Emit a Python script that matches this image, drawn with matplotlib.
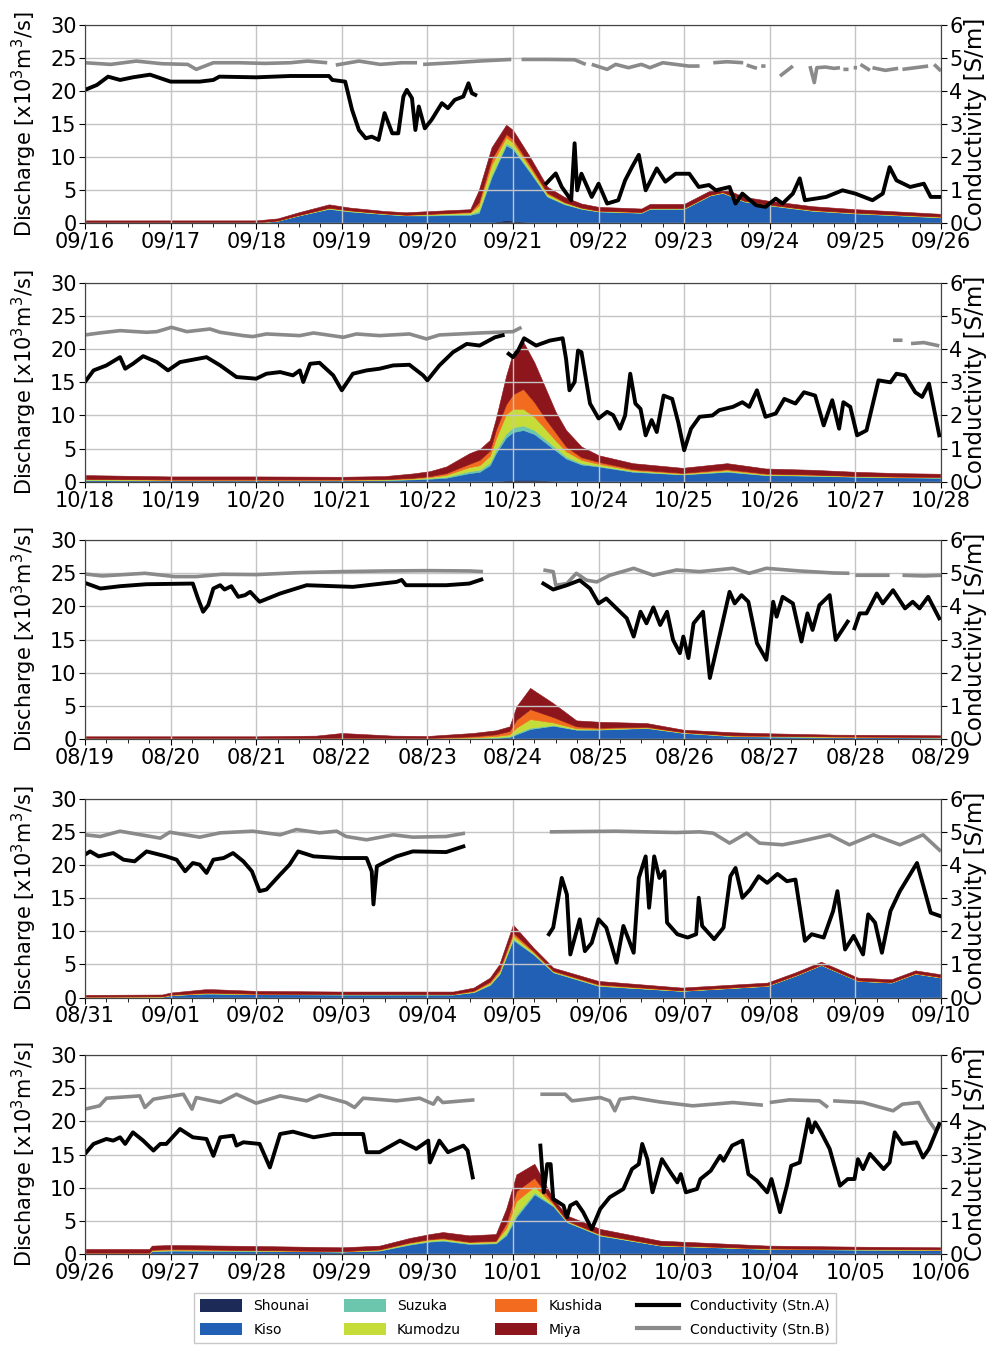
import numpy as np
import matplotlib
matplotlib.use("Agg")
import matplotlib.pyplot as plt
from matplotlib.ticker import MultipleLocator
from matplotlib.patches import Patch
from matplotlib.lines import Line2D

nan = np.nan

# ---------------- tick labels ----------------
labels1 = ['09/16', '09/17', '09/18', '09/19', '09/20', '09/21', '09/22', '09/23', '09/24', '09/25', '09/26']
labels2 = ['10/18', '10/19', '10/20', '10/21', '10/22', '10/23', '10/24', '10/25', '10/26', '10/27', '10/28']
labels3 = ['08/19', '08/20', '08/21', '08/22', '08/23', '08/24', '08/25', '08/26', '08/27', '08/28', '08/29']
labels4 = ['08/31', '09/01', '09/02', '09/03', '09/04', '09/05', '09/06', '09/07', '09/08', '09/09', '09/10']
labels5 = ['09/26', '09/27', '09/28', '09/29', '09/30', '10/01', '10/02', '10/03', '10/04', '10/05', '10/06']

rivers = ['Shounai', 'Kiso', 'Suzuka', 'Kumodzu', 'Kushida', 'Miya']
river_colors = ['#1b2a57', '#2160b4', '#6cc6ae', '#c6dc38', '#f26b1f', '#8c161b']

# ---------------- panel 1 ----------------
t1_q = [0, 1, 2, 2.25, 2.5, 2.85, 3.1, 3.5, 3.75, 4.0, 4.5, 4.6, 4.75, 4.92, 5.0, 5.2, 5.4, 5.6, 5.8, 6.0,
        6.5, 6.6, 7.0, 7.3, 7.45, 7.7, 8.0, 8.5, 9.0, 9.5, 10]
shounai1 = [0, 0, 0, 0, 0, 0, 0, 0, 0, 0, 0, 0, 0.2, 0.5, 0.4, 0.2, 0.05, 0, 0, 0, 0, 0, 0, 0, 0, 0, 0, 0, 0, 0, 0]
kiso1 = [0.1, 0.1, 0.1, 0.4, 1.2, 2.2, 1.8, 1.4, 1.2, 1.2, 1.3, 1.6, 6.8, 11.3, 10.8, 7.5, 4.0, 2.9, 2.2, 1.8,
         1.6, 2.2, 2.2, 4.2, 4.6, 3.3, 2.7, 1.9, 1.5, 1.2, 0.9]
suzuka1 = [0.02, 0.02, 0.02, 0.02, 0.03, 0.05, 0.05, 0.05, 0.05, 0.1, 0.15, 0.3, 0.4, 0.3, 0.3, 0.2, 0.1, 0.1, 0.05, 0.05,
           0.05, 0.05, 0.05, 0.05, 0.05, 0.05, 0.05, 0.05, 0.05, 0.05, 0.05]
kumodzu1 = [0.02, 0.02, 0.02, 0.02, 0.05, 0.1, 0.1, 0.05, 0.05, 0.1, 0.2, 0.8, 1.5, 0.9, 0.7, 0.5, 0.3, 0.15, 0.1, 0.05,
            0.05, 0.05, 0.05, 0.05, 0.05, 0.05, 0.05, 0.05, 0.05, 0.05, 0.05]
kushida1 = [0.02, 0.02, 0.02, 0.02, 0.02, 0.03, 0.03, 0.03, 0.03, 0.05, 0.1, 0.5, 0.8, 0.5, 0.5, 0.4, 0.2, 0.1, 0.05, 0.05,
            0.05, 0.05, 0.05, 0.05, 0.05, 0.05, 0.05, 0.05, 0.05, 0.05, 0.05]
miya1 = [0.3, 0.3, 0.3, 0.3, 0.4, 0.5, 0.4, 0.35, 0.35, 0.4, 0.4, 1.8, 1.8, 1.4, 1.4, 1.2, 0.9, 0.75, 0.6, 0.55,
         0.5, 0.6, 0.6, 0.6, 0.6, 0.55, 0.55, 0.55, 0.5, 0.45, 0.4]
t1_a = [0, 0.14, 0.27, 0.41, 0.56, 0.76, 1.0, 1.34, 1.5, 1.57, 2.0, 2.4, 2.85, 2.89, 3.04, 3.12, 3.2, 3.28, 3.35, 3.43,
        3.5, 3.59, 3.66, 3.72, 3.76, 3.82, 3.86, 3.9, 3.97, 4.05, 4.17, 4.24, 4.32, 4.42, 4.48, 4.52, 4.56, 4.9,
        5.39, 5.5, 5.57, 5.68, 5.72, 5.75, 5.8, 5.92, 6.0, 6.1, 6.23, 6.31, 6.39, 6.47, 6.55, 6.68, 6.78, 6.9, 7.06,
        7.17, 7.29, 7.37, 7.53, 7.6, 7.68, 7.84, 7.95, 8.07, 8.15, 8.27, 8.35, 8.41, 8.66, 8.85, 9.0, 9.2, 9.32, 9.4,
        9.48, 9.64, 9.8, 9.88, 10]
cond_a1 = [4.03, 4.18, 4.43, 4.33, 4.41, 4.49, 4.28, 4.28, 4.33, 4.43, 4.41, 4.45, 4.45, 4.33, 4.28, 3.43, 2.82, 2.57,
           2.62, 2.52, 3.33, 2.72, 2.72, 3.83, 4.03, 3.78, 2.82, 3.53, 2.87, 3.13, 3.63, 3.48, 3.73, 3.83, 4.23, 3.93,
           3.88, nan,
           1.21, 1.51, 1.1, 0.7, 2.42, 1.0, 1.5, 0.8, 1.2, 0.6, 0.7, 1.3, 1.7, 2.07, 1.0, 1.66, 1.26, 1.5, 1.5, 1.1,
           1.16, 1.0, 1.1, 0.6, 0.9, 0.55, 0.5, 0.75, 0.6, 0.9, 1.36, 0.7, 0.8, 1.0, 0.9, 0.7, 0.9, 1.7, 1.3, 1.1,
           1.2, 0.8, 0.8]
t1_b = [0, 0.3, 0.6, 0.9, 1.2, 1.3, 1.5, 1.8, 2.1, 2.4, 2.6, 2.83, 2.86,
        2.93, 3.2, 3.45, 3.7, 3.88, 3.91,
        3.95, 4.3, 4.6, 4.98, 5.02,
        5.1, 5.4, 5.72, 5.85, 5.88,
        5.92, 6.1, 6.2, 6.35, 6.5, 6.6, 6.75, 6.9, 7.05, 7.18, 7.25,
        7.34, 7.5, 7.69, 7.71,
        7.73, 7.85, 7.87,
        7.9, 7.95, 7.97,
        8.12, 8.27, 8.3,
        8.47, 8.52, 8.55, 8.65, 8.75, 8.82, 8.84,
        8.86, 8.92, 8.95,
        8.98, 9.02, 9.04,
        9.06, 9.17, 9.19,
        9.2, 9.35, 9.5, 9.52,
        9.55, 9.7, 9.85, 9.88,
        9.92, 10]
cond_b1 = [4.85, 4.8, 4.9, 4.82, 4.8, 4.65, 4.85, 4.85, 4.83, 4.85, 4.9, 4.85, nan,
           4.78, 4.9, 4.8, 4.85, 4.85, nan,
           4.8, 4.85, 4.9, 4.95, nan,
           4.95, 4.95, 4.94, 4.8, nan,
           4.8, 4.65, 4.8, 4.7, 4.8, 4.7, 4.85, 4.8, 4.75, 4.75, nan,
           4.85, 4.88, 4.85, nan,
           4.78, 4.68, nan,
           4.75, 4.75, nan,
           4.45, 4.75, nan,
           4.75, 4.25, 4.7, 4.72, 4.68, 4.7, nan,
           4.65, 4.65, nan,
           4.7, 4.7, nan,
           4.8, 4.62, nan,
           4.7, 4.62, 4.68, nan,
           4.65, 4.7, 4.75, nan,
           4.8, 4.6]

# ---------------- panel 2 ----------------
t2_q = [0, 0.5, 1, 2, 3, 3.5, 3.83, 4.03, 4.22, 4.49, 4.61, 4.73, 4.8, 4.92, 5.0, 5.12, 5.25, 5.39, 5.5, 5.62,
        5.8, 6.0, 6.4, 6.98, 7.5, 7.95, 8.5, 9.0, 9.5, 10]
shounai2 = [0, 0, 0, 0, 0, 0, 0, 0, 0, 0, 0, 0, 0.1, 0.2, 0.3, 0.3, 0.3, 0.2, 0.1, 0.05, 0, 0, 0, 0, 0, 0, 0, 0, 0, 0]
kiso2 = [0.25, 0.2, 0.2, 0.2, 0.2, 0.25, 0.35, 0.45, 0.6, 1.3, 1.5, 2.5, 4.2, 6.5, 7.2, 7.5, 6.9, 5.6, 4.6, 3.45,
         2.6, 2.3, 1.5, 1.1, 1.5, 1.0, 0.9, 0.75, 0.65, 0.6]
suzuka2 = [0.05, 0.05, 0.05, 0.05, 0.05, 0.05, 0.05, 0.1, 0.15, 0.3, 0.3, 0.4, 0.5, 0.6, 0.7, 0.7, 0.6, 0.5, 0.4, 0.3,
           0.2, 0.1, 0.1, 0.05, 0.1, 0.05, 0.05, 0.05, 0.05, 0.05]
kumodzu2 = [0.1, 0.1, 0.05, 0.05, 0.05, 0.05, 0.1, 0.15, 0.3, 0.6, 0.7, 1.0, 1.7, 2.9, 2.8, 2.5, 2.0, 1.5, 1.1, 0.8,
            0.5, 0.3, 0.15, 0.1, 0.15, 0.1, 0.1, 0.05, 0.05, 0.05]
kushida2 = [0.05, 0.05, 0.05, 0.05, 0.05, 0.05, 0.1, 0.15, 0.25, 0.5, 0.8, 0.8, 1.3, 1.5, 2.2, 3.0, 2.2, 1.5, 1.2, 0.7,
            0.4, 0.3, 0.15, 0.1, 0.15, 0.1, 0.05, 0.05, 0.05, 0.05]
miya2 = [0.55, 0.5, 0.45, 0.45, 0.4, 0.45, 0.65, 0.75, 1.0, 1.6, 1.6, 1.6, 1.7, 4.3, 6.3, 7.1, 6.0, 4.5, 3.1, 2.5,
         1.6, 1.0, 0.9, 0.75, 0.9, 0.75, 0.7, 0.6, 0.5, 0.45]
t2_a = [0, 0.1, 0.25, 0.41, 0.47, 0.56, 0.68, 0.84, 0.97, 1.11, 1.42, 1.58, 1.77, 2.0, 2.12, 2.28, 2.43, 2.51, 2.55,
        2.63, 2.74, 2.9, 3.0, 3.13, 3.29, 3.44, 3.6, 3.79, 3.95, 4.0, 4.14, 4.3, 4.46, 4.61, 4.79, 4.88, 4.91,
        4.95, 5.0, 5.06, 5.13, 5.27, 5.43, 5.58, 5.62, 5.66, 5.72, 5.76, 5.8, 5.9, 6.0, 6.1, 6.17, 6.25, 6.31, 6.37,
        6.43, 6.49, 6.55, 6.62, 6.68, 6.76, 6.86, 6.93, 7.0, 7.08, 7.18, 7.33, 7.41, 7.57, 7.68, 7.76, 7.85, 7.95,
        8.07, 8.17, 8.3, 8.4, 8.53, 8.63, 8.73, 8.81, 8.86, 8.94, 9.02, 9.13, 9.27, 9.41, 9.48, 9.58, 9.7, 9.78,
        9.86, 9.98]
cond_a2 = [3.01, 3.36, 3.51, 3.76, 3.41, 3.56, 3.79, 3.61, 3.36, 3.61, 3.76, 3.51, 3.16, 3.11, 3.26, 3.31, 3.21,
           3.36, 3.01, 3.56, 3.59, 3.21, 2.76, 3.26, 3.36, 3.41, 3.51, 3.53, 3.21, 3.06, 3.51, 3.91, 4.16, 4.11,
           4.36, 4.42, nan,
           3.86, 3.76, 3.96, 4.33, 4.11, 4.26, 4.33, 3.71, 2.76, 3.01, 3.96, 3.91, 2.36, 1.91, 2.11, 2.01, 1.6, 2.0,
           3.26, 2.36, 2.2, 1.4, 1.86, 1.5, 2.6, 2.5, 1.8, 0.95, 1.6, 1.96, 2.0, 2.16, 2.26, 2.4, 2.26, 2.76, 1.96,
           2.06, 2.5, 2.36, 2.7, 2.6, 1.7, 2.46, 1.6, 2.4, 2.26, 1.4, 1.55, 3.06, 3.0, 3.26, 3.21, 2.7, 2.56, 2.96,
           1.4]
t2_b = [0, 0.17, 0.41, 0.72, 0.84, 1.01, 1.19, 1.46, 1.58, 1.85, 1.96, 2.12, 2.51, 2.67, 3.02, 3.17, 3.44, 3.79,
        3.99, 4.14, 4.61, 5.0, 5.1, 5.12, 9.44, 9.55, 9.57, 9.65, 9.8, 9.98]
cond_b2 = [4.43, 4.49, 4.56, 4.51, 4.53, 4.66, 4.53, 4.61, 4.51, 4.41, 4.38, 4.46, 4.41, 4.49, 4.36, 4.46, 4.41,
           4.46, 4.31, 4.43, 4.49, 4.53, 4.66, nan, 4.27, 4.27, nan, 4.17, 4.2, 4.1]

# ---------------- panel 3 ----------------
t3_q = [0, 1, 2, 2.7, 3.0, 3.6, 4.0, 4.53, 4.8, 4.96, 5.04, 5.2, 5.47, 5.74, 6.0, 6.56, 6.99, 7.57, 8.0, 8.74,
        9.5, 10]
shounai3 = [0, 0, 0, 0, 0, 0, 0, 0, 0, 0, 0, 0.05, 0.05, 0, 0, 0, 0, 0, 0, 0, 0, 0]
kiso3 = [0.05, 0.05, 0.05, 0.05, 0.1, 0.05, 0.05, 0.1, 0.15, 0.3, 0.7, 1.45, 1.95, 1.4, 1.4, 1.65, 0.9, 0.4, 0.35,
         0.3, 0.25, 0.2]
suzuka3 = [0.02, 0.02, 0.02, 0.02, 0.02, 0.02, 0.02, 0.05, 0.1, 0.1, 0.2, 0.2, 0.1, 0.05, 0.05, 0.05, 0.05, 0.05,
           0.05, 0.02, 0.02, 0.02]
kumodzu3 = [0.03, 0.03, 0.03, 0.03, 0.03, 0.03, 0.03, 0.1, 0.2, 0.3, 0.8, 1.3, 0.4, 0.15, 0.1, 0.05, 0.05, 0.05,
            0.05, 0.03, 0.03, 0.03]
kushida3 = [0.05, 0.05, 0.05, 0.05, 0.05, 0.05, 0.05, 0.15, 0.25, 0.5, 1.2, 1.5, 0.8, 0.3, 0.15, 0.1, 0.05, 0.05,
            0.05, 0.05, 0.05, 0.05]
miya3 = [0.25, 0.25, 0.25, 0.35, 0.7, 0.35, 0.3, 0.5, 0.6, 0.7, 2.0, 3.2, 2.1, 0.9, 0.9, 0.55, 0.35, 0.45, 0.35,
         0.25, 0.25, 0.25]
t3_a = [0, 0.18, 0.41, 0.72, 1.26, 1.32, 1.38, 1.44, 1.5, 1.58, 1.63, 1.71, 1.79, 1.87, 1.93, 2.04, 2.28, 2.59,
        3.13, 3.64, 3.7, 3.75, 4.22, 4.49, 4.63, 4.7,
        5.355, 5.47, 5.63, 5.78, 5.9, 6.0, 6.09, 6.33, 6.41, 6.49, 6.56, 6.64, 6.72, 6.8, 6.87, 6.95, 6.99, 7.05,
        7.11, 7.22, 7.3, 7.42, 7.53, 7.59, 7.67, 7.75, 7.85, 7.96, 8.04, 8.08, 8.15, 8.27, 8.37, 8.44, 8.5, 8.58,
        8.7, 8.77, 8.91, 8.95, 8.99, 9.05, 9.13, 9.25, 9.32, 9.44, 9.58, 9.67, 9.75, 9.85, 9.98]
cond_a3 = [4.71, 4.54, 4.61, 4.67, 4.69, 4.24, 3.84, 4.04, 4.54, 4.64, 4.51, 4.61, 4.29, 4.34, 4.44, 4.14, 4.39,
           4.64, 4.59, 4.74, 4.8, 4.64, 4.64, 4.69, 4.81, nan,
           4.69, 4.51, 4.64, 4.79, 4.54, 4.09, 4.24, 3.64, 3.09, 3.84, 3.49, 3.97, 3.44, 3.84, 2.99, 2.59, 3.09,
           2.44, 3.49, 3.84, 1.84, 3.19, 4.44, 4.09, 4.34, 4.14, 2.89, 2.39, 4.14, 3.69, 4.29, 4.09, 2.94, 3.79,
           3.29, 4.04, 4.34, 2.99, 3.54, nan, 3.34, 3.79, 3.79, 4.39, 4.09, 4.49, 3.94, 4.14, 3.94, 4.29, 3.64]
t3_b = [0, 0.2, 0.7, 1.05, 1.3, 1.6, 2.0, 2.5, 3.0, 3.5, 4.0, 4.5, 4.65, 4.7,
        5.355, 5.47, 5.5, 5.63, 5.74, 5.86, 5.98, 6.13, 6.41, 6.64, 6.91, 7.18, 7.57, 7.76, 7.96, 8.35, 8.74,
        8.93, 8.96, 9.0, 9.4, 9.43, 9.55, 9.8, 10]
cond_b3 = [4.98, 4.92, 5.0, 4.9, 4.9, 4.97, 4.96, 5.02, 5.05, 5.07, 5.08, 5.07, 5.05, nan,
           5.1, 5.05, 4.64, 4.69, 5.0, 4.79, 4.74, 4.94, 5.15, 4.94, 5.1, 5.05, 5.15, 5.0, 5.15, 5.07, 5.01,
           5.0, nan, 4.94, 4.94, nan, 4.94, 4.92, 4.94]

# ---------------- panel 4 ----------------
t4_q = [0, 0.9, 1.0, 1.4, 1.5, 2.0, 3.0, 4.3, 4.54, 4.73, 4.84, 5.0, 5.24, 5.47, 6.0, 6.97, 7.97, 8.3, 8.6, 9.03,
        9.42, 9.7, 10]
shounai4 = [0, 0, 0, 0, 0, 0, 0, 0, 0, 0, 0, 0.1, 0.05, 0, 0, 0, 0, 0, 0, 0, 0, 0, 0]
kiso4 = [0.05, 0.1, 0.35, 0.6, 0.6, 0.5, 0.45, 0.45, 0.8, 1.9, 3.5, 8.6, 6.45, 3.8, 1.75, 1.0, 1.75, 3.3, 4.9, 2.5,
         2.25, 3.6, 3.0]
suzuka4 = [0.02, 0.02, 0.02, 0.02, 0.02, 0.02, 0.02, 0.02, 0.05, 0.1, 0.1, 0.2, 0.1, 0.05, 0.05, 0.02, 0.02, 0.02,
           0.02, 0.02, 0.02, 0.02, 0.02]
kumodzu4 = [0.03, 0.03, 0.03, 0.03, 0.03, 0.03, 0.03, 0.03, 0.1, 0.2, 0.3, 0.5, 0.2, 0.1, 0.1, 0.03, 0.03, 0.03,
            0.03, 0.03, 0.03, 0.03, 0.03]
kushida4 = [0.05, 0.05, 0.05, 0.1, 0.1, 0.05, 0.05, 0.05, 0.1, 0.2, 0.3, 0.4, 0.2, 0.1, 0.1, 0.05, 0.05, 0.05,
            0.05, 0.05, 0.05, 0.05, 0.05]
miya4 = [0.25, 0.25, 0.3, 0.5, 0.5, 0.4, 0.35, 0.35, 0.45, 0.6, 0.8, 1.2, 0.5, 0.45, 0.5, 0.4, 0.4, 0.4, 0.4, 0.4,
         0.4, 0.4, 0.4]
t4_a = [0, 0.06, 0.16, 0.33, 0.45, 0.58, 0.72, 0.95, 1.07, 1.17, 1.26, 1.34, 1.42, 1.5, 1.62, 1.73, 1.85, 1.95,
        2.04, 2.12, 2.28, 2.39, 2.49, 2.67, 2.98, 3.29, 3.35, 3.37, 3.41, 3.52, 3.64, 3.83, 4.22, 4.42, 4.45,
        5.42, 5.47, 5.51, 5.57, 5.63, 5.67, 5.78, 5.84, 5.92, 6.0, 6.09, 6.21, 6.29, 6.35, 6.41, 6.47, 6.55, 6.59,
        6.65, 6.71, 6.77, 6.8, 6.92, 7.04, 7.14, 7.17, 7.21, 7.35, 7.46, 7.54, 7.6, 7.68, 7.77, 7.87, 7.97, 8.09,
        8.2, 8.3, 8.41, 8.49, 8.63, 8.74, 8.79, 8.88, 8.98, 9.09, 9.15, 9.23, 9.31, 9.41, 9.52, 9.72, 9.88, 9.99]
cond_a4 = [4.31, 4.41, 4.26, 4.36, 4.16, 4.11, 4.41, 4.26, 4.16, 3.81, 4.06, 4.01, 3.76, 4.16, 4.21, 4.36, 4.11,
           3.81, 3.21, 3.26, 3.71, 4.01, 4.41, 4.26, 4.21, 4.21, 3.81, 2.81, 3.96, 4.11, 4.26, 4.41, 4.39, 4.56, nan,
           1.91, 2.11, 2.71, 3.61, 3.11, 1.3, 2.36, 1.4, 1.65, 2.36, 2.11, 1.05, 2.16, 1.76, 1.35, 3.61, 4.26, 2.71,
           4.26, 3.61, 3.81, 2.26, 1.91, 1.81, 1.91, 3.01, 2.16, 1.76, 2.11, 3.66, 3.91, 3.01, 3.26, 3.66, 3.46,
           3.73, 3.51, 3.56, 1.71, 1.91, 1.81, 2.61, 3.21, 1.45, 1.86, 1.3, 2.51, 2.26, 1.35, 2.61, 3.21, 4.06,
           2.56, 2.46]
t4_b = [0, 0.18, 0.41, 0.88, 0.99, 1.34, 1.58, 1.96, 2.28, 2.47, 2.74, 2.94, 3.05, 3.29, 3.6, 3.83, 4.22, 4.44,
        4.5,
        5.43, 6.2, 6.9, 7.18, 7.34, 7.53, 7.73, 7.88, 8.15, 8.35, 8.7, 8.93, 9.21, 9.52, 9.79, 10.0]
cond_b4 = [4.91, 4.86, 5.02, 4.81, 4.99, 4.84, 4.97, 5.02, 4.91, 5.07, 4.97, 5.02, 4.86, 4.76, 4.91, 4.84, 4.86,
           4.96, nan,
           5.0, 5.02, 4.98, 5.0, 4.96, 4.66, 4.96, 4.66, 4.61, 4.71, 4.91, 4.61, 4.91, 4.61, 4.91, 4.41]

# ---------------- panel 5 ----------------
t5_q = [0, 0.75, 0.78, 1.0, 2.0, 3.0, 3.44, 3.79, 4.03, 4.18, 4.49, 4.8, 4.92, 5.04, 5.25, 5.47, 5.63, 6.02, 6.72,
        7.97, 9.0, 10]
shounai5 = [0, 0, 0, 0, 0, 0, 0, 0, 0, 0, 0, 0, 0, 0.1, 0.2, 0.1, 0, 0, 0, 0, 0, 0]
kiso5 = [0.1, 0.1, 0.4, 0.5, 0.45, 0.35, 0.5, 1.4, 1.86, 2.0, 1.5, 1.6, 2.8, 5.5, 8.8, 7.1, 4.8, 2.76, 1.26, 0.75,
         0.65, 0.6]
suzuka5 = [0.02, 0.02, 0.05, 0.05, 0.05, 0.02, 0.05, 0.1, 0.1, 0.1, 0.1, 0.1, 0.3, 0.4, 0.3, 0.1, 0.05, 0.05, 0.02,
           0.02, 0.02, 0.02]
kumodzu5 = [0.03, 0.03, 0.1, 0.1, 0.05, 0.03, 0.1, 0.15, 0.2, 0.2, 0.15, 0.2, 0.8, 2.0, 0.9, 0.2, 0.1, 0.1, 0.05,
            0.03, 0.03, 0.03]
kushida5 = [0.05, 0.05, 0.1, 0.1, 0.05, 0.05, 0.05, 0.1, 0.1, 0.1, 0.1, 0.1, 0.7, 1.5, 1.3, 0.2, 0.1, 0.06, 0.05,
            0.05, 0.05, 0.05]
miya5 = [0.55, 0.55, 0.6, 0.6, 0.6, 0.55, 0.55, 0.65, 0.74, 0.9, 0.95, 1.0, 2.2, 2.5, 2.1, 0.6, 0.75, 0.8, 0.62,
         0.41, 0.35, 0.3]
t5_a = [0, 0.1, 0.25, 0.33, 0.41, 0.47, 0.56, 0.68, 0.8, 0.88, 0.95, 1.11, 1.26, 1.42, 1.5, 1.58, 1.73, 1.77, 1.85,
        2.04, 2.16, 2.28, 2.43, 2.67, 2.9, 3.25, 3.29, 3.44, 3.68, 3.87, 4.01, 4.03, 4.14, 4.24, 4.42, 4.47, 4.53,
        4.6,
        5.32, 5.36, 5.4, 5.44, 5.47, 5.53, 5.59, 5.63, 5.67, 5.74, 5.82, 5.92, 6.02, 6.13, 6.29, 6.39, 6.47, 6.51,
        6.57, 6.63, 6.74, 6.84, 6.92, 6.96, 7.02, 7.15, 7.19, 7.31, 7.42, 7.46, 7.56, 7.68, 7.75, 7.85, 7.97, 8.02,
        8.12, 8.2, 8.25, 8.35, 8.45, 8.49, 8.53, 8.6, 8.7, 8.82, 8.91, 8.99, 9.03, 9.09, 9.17, 9.33, 9.4, 9.46,
        9.55, 9.71, 9.79, 9.86, 9.98]
cond_a5 = [3.02, 3.32, 3.47, 3.42, 3.52, 3.32, 3.67, 3.42, 3.12, 3.32, 3.32, 3.77, 3.52, 3.47, 2.96, 3.52, 3.57,
           3.27, 3.37, 3.32, 2.61, 3.62, 3.69, 3.52, 3.62, 3.62, 3.07, 3.07, 3.42, 3.17, 3.42, 2.76, 3.42, 3.07,
           3.27, 3.12, 2.31, nan,
           3.27, 1.86, 2.71, 2.71, 1.66, 1.56, 1.46, 1.11, 1.46, 1.56, 1.26, 0.75, 1.36, 1.71, 1.96, 2.56, 2.71,
           3.32, 2.86, 1.86, 2.86, 2.46, 2.16, 2.41, 1.86, 1.96, 2.26, 2.51, 2.96, 2.81, 3.27, 3.42, 2.41, 2.21,
           1.86, 2.26, 1.26, 2.06, 2.66, 2.76, 4.07, 3.67, 3.97, 3.67, 3.17, 2.06, 2.26, 2.26, 2.86, 2.56, 3.02,
           2.56, 2.76, 3.67, 3.32, 3.37, 2.91, 3.17, 3.92]
t5_b = [0, 0.17, 0.25, 0.64, 0.7, 0.8, 1.15, 1.25, 1.3, 1.58, 1.77, 2.0, 2.28, 2.59, 2.74, 3.05, 3.15, 3.25, 3.64,
        3.91, 4.07, 4.12, 4.18, 4.55, 4.6,
        5.32, 5.61, 5.69, 6.02, 6.13, 6.19, 6.25, 6.4, 6.71, 7.1, 7.57, 7.92, 7.95, 8.0, 8.23, 8.58, 8.68, 8.71,
        8.74, 9.09, 9.44, 9.55, 9.74, 9.86, 9.94, 9.98]
cond_b5 = [4.37, 4.47, 4.7, 4.77, 4.42, 4.67, 4.82, 4.37, 4.72, 4.57, 4.82, 4.55, 4.77, 4.62, 4.79, 4.57, 4.42,
           4.7, 4.62, 4.7, 4.52, 4.72, 4.57, 4.65, nan,
           4.82, 4.82, 4.62, 4.72, 4.62, 4.32, 4.67, 4.72, 4.59, 4.47, 4.57, 4.49, nan, 4.57, 4.65, 4.62, 4.42, nan,
           4.62, 4.57, 4.32, 4.52, 4.57, 4.02, 3.72, 3.87]

panels = [
    (labels1, t1_q, [shounai1, kiso1, suzuka1, kumodzu1, kushida1, miya1], t1_a, cond_a1, t1_b, cond_b1),
    (labels2, t2_q, [shounai2, kiso2, suzuka2, kumodzu2, kushida2, miya2], t2_a, cond_a2, t2_b, cond_b2),
    (labels3, t3_q, [shounai3, kiso3, suzuka3, kumodzu3, kushida3, miya3], t3_a, cond_a3, t3_b, cond_b3),
    (labels4, t4_q, [shounai4, kiso4, suzuka4, kumodzu4, kushida4, miya4], t4_a, cond_a4, t4_b, cond_b4),
    (labels5, t5_q, [shounai5, kiso5, suzuka5, kumodzu5, kushida5, miya5], t5_a, cond_a5, t5_b, cond_b5),
]

# ---------------- figure ----------------
fig = plt.figure(figsize=(9.95, 13.46), dpi=100)
left, width, height = 0.0854, 0.8603, 0.1477
bottoms = [0.8340, 0.6421, 0.4510, 0.2589, 0.0684]
FS = 15

for (labels, tq, comps, ta, ca, tb, cb), bottom in zip(panels, bottoms):
    ax = fig.add_axes([left, bottom, width, height])
    ax.stackplot(tq, *comps, colors=river_colors, linewidth=0.4, edgecolor='face')
    ax.set_xlim(0, 10)
    ax.set_ylim(0, 30)
    ax.set_yticks(range(0, 31, 5))
    ax.set_xticks(range(11))
    ax.set_xticklabels(labels)
    ax.xaxis.set_minor_locator(MultipleLocator(0.25))
    ax.tick_params(axis='both', which='major', labelsize=FS, length=4, pad=2)
    ax.tick_params(axis='x', which='minor', length=3)
    ax.grid(True, which='major', color='#c4c4c4', linewidth=1.0)
    ax.set_axisbelow(False)
    ax.set_ylabel('Discharge [x10$^3$m$^3$/s]', fontsize=FS, labelpad=8)
    for sp in ax.spines.values():
        sp.set_color('#444444')

    ax2 = ax.twinx()
    ax2.plot(tb, cb, color='#8a8a8a', linewidth=2.6, solid_capstyle='butt')
    ax2.plot(ta, ca, color='black', linewidth=2.8, solid_joinstyle='round')
    ax2.set_ylim(0, 6)
    ax2.set_yticks(range(0, 7))
    ax2.tick_params(axis='y', labelsize=FS, length=4, pad=2)
    ax2.set_ylabel('Conductivity [S/m]', fontsize=16.5, labelpad=1)
    for sp in ax2.spines.values():
        sp.set_color('#444444')

handles = [Patch(facecolor=c, edgecolor='none') for c in river_colors]
handles += [Line2D([], [], color='black', linewidth=3.0), Line2D([], [], color='#8a8a8a', linewidth=3.0)]
names = rivers + ['Conductivity (Stn.A)', 'Conductivity (Stn.B)']
fig.legend(handles, names, ncol=4, loc='center', bbox_to_anchor=(0.5176, 0.0208), fontsize=10,
           frameon=True, edgecolor='#bbbbbb', handlelength=3.0, handleheight=1.0, handletextpad=0.8,
           columnspacing=2.5, labelspacing=0.7, borderpad=0.45, fancybox=False)

fig.savefig('out.png', dpi=100)
